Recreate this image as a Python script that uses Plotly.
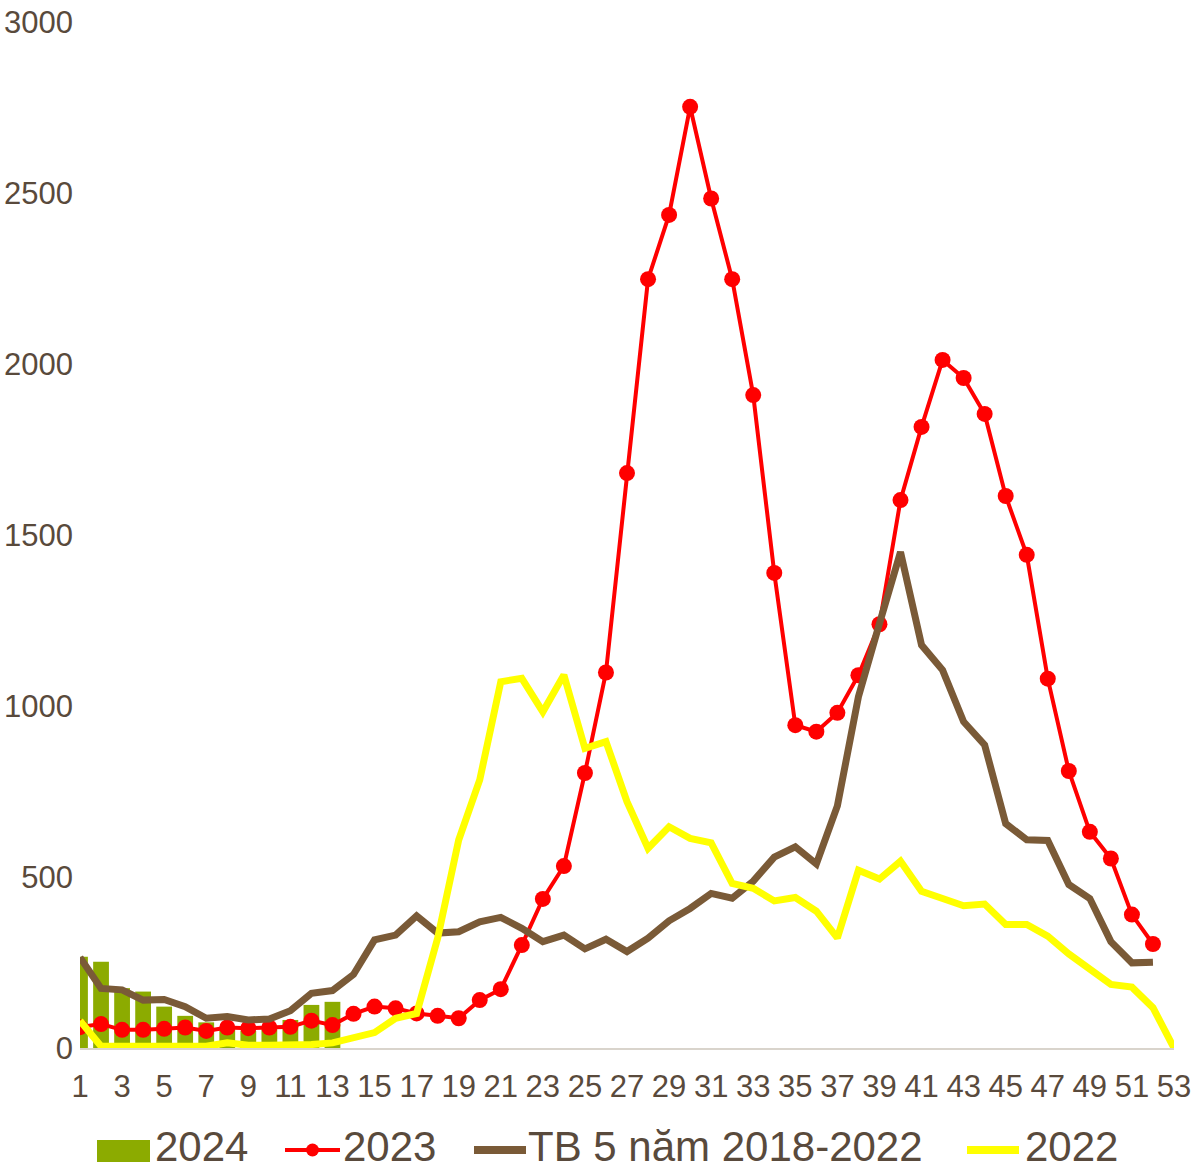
import plotly.graph_objects as go

weeks = list(range(1, 54))
tick_vals = list(range(1, 54, 2))
y_ticks = [0, 500, 1000, 1500, 2000, 2500, 3000]

weeks_2024 = list(range(1, 14))
cases_2024 = [267, 252, 175, 165, 121, 94, 75, 55, 50, 55, 82, 126, 135]

weeks_2023 = list(range(1, 53))
cases_2023 = [61, 70, 53, 53, 56, 60, 50, 60, 58, 60, 62, 80, 67, 100, 121, 116, 101, 94, 87, 140,
              172, 301, 436, 532, 804, 1098, 1681, 2248, 2436, 2752, 2484, 2248, 1909, 1389, 944, 925,
              980, 1090, 1239, 1602, 1816, 2012, 1959, 1854, 1614, 1442, 1080, 810, 632, 554, 390, 304]

weeks_avg = list(range(1, 53))
cases_avg = [265, 174, 170, 140, 142, 121, 87, 92, 82, 85, 109, 160, 168, 215, 316, 330, 386, 336, 340, 369,
             382, 350, 311, 330, 290, 318, 282, 321, 372, 408, 452, 438, 488, 558, 588, 538, 708, 1027,
             1241, 1450, 1178, 1105, 954, 886, 656, 609, 607, 478, 437, 311, 249, 251]

weeks_2022 = list(range(1, 54))
cases_2022 = [80, 5, 5, 5, 5, 5, 5, 15, 8, 8, 8, 10, 15, 28, 45, 87, 101, 321, 608, 784,
              1071, 1081, 983, 1091, 876, 896, 720, 584, 647, 613, 600, 481, 467, 430, 440, 400, 322,
              520, 494, 546, 458, 437, 416, 421, 361, 361, 327, 275, 233, 186, 178, 118, 0]

series_names = ["2024", "2023", "TB 5 năm 2018-2022", "2022"]
series_colors = ["#8cab00", "#ff0000", "#7a5a37", "#ffff00"]

text_color = "#594a3c"
font_family = "Liberation Sans, Arial, sans-serif"

W, H = 1195, 1169
ML, MR, MT, MB = 80, 21, 22, 121
PW, PH = W - ML - MR, H - MT - MB


def px_x(px):
    return (px - ML) / PW


def px_y(py):
    return (H - MB - py) / PH


fig = go.Figure()
fig.add_trace(go.Bar(x=weeks_2024, y=cases_2024, name=series_names[0], marker_color=series_colors[0],
                     width=0.75, marker_line_width=0, showlegend=False))
fig.add_trace(go.Scatter(x=weeks_2023, y=cases_2023, name=series_names[1], mode="lines+markers",
                         line=dict(color=series_colors[1], width=4),
                         marker=dict(color=series_colors[1], size=16), showlegend=False))
fig.add_trace(go.Scatter(x=weeks_avg, y=cases_avg, name=series_names[2], mode="lines",
                         line=dict(color=series_colors[2], width=7), showlegend=False))
fig.add_trace(go.Scatter(x=weeks_2022, y=cases_2022, name=series_names[3], mode="lines",
                         line=dict(color=series_colors[3], width=7), showlegend=False))

# Legend drawn at bottom (symbols + real text)
leg_y = 1150
shapes = []
annotations = []
shapes.append(dict(type="rect", xref="paper", yref="paper",
                   x0=px_x(97), x1=px_x(150), y0=px_y(1162), y1=px_y(1140),
                   fillcolor=series_colors[0], line=dict(width=0)))
shapes.append(dict(type="line", xref="paper", yref="paper",
                   x0=px_x(285), x1=px_x(340), y0=px_y(leg_y), y1=px_y(leg_y),
                   line=dict(color=series_colors[1], width=4)))
shapes.append(dict(type="circle", xref="paper", yref="paper",
                   x0=px_x(306), x1=px_x(319), y0=px_y(leg_y + 6.5), y1=px_y(leg_y - 6.5),
                   fillcolor=series_colors[1], line=dict(width=0)))
shapes.append(dict(type="line", xref="paper", yref="paper",
                   x0=px_x(474), x1=px_x(526), y0=px_y(leg_y), y1=px_y(leg_y),
                   line=dict(color=series_colors[2], width=8)))
shapes.append(dict(type="line", xref="paper", yref="paper",
                   x0=px_x(967), x1=px_x(1019), y0=px_y(leg_y), y1=px_y(leg_y),
                   line=dict(color=series_colors[3], width=8)))

for name, left in zip(series_names, [153, 341, 526, 1023]):
    annotations.append(dict(text=name, xref="paper", yref="paper", x=px_x(left), y=px_y(1146),
                            xanchor="left", yanchor="middle", showarrow=False,
                            font=dict(size=42, color=text_color, family=font_family)))

fig.update_layout(
    width=W, height=H,
    margin=dict(l=ML, r=MR, t=MT, b=MB),
    paper_bgcolor="white", plot_bgcolor="white",
    font=dict(family=font_family, color=text_color, size=31),
    bargap=0.25,
    showlegend=False,
    shapes=shapes,
    annotations=annotations,
    xaxis=dict(range=[1, 53], tickmode="array", tickvals=tick_vals,
               ticktext=[str(v) for v in tick_vals], showgrid=False, zeroline=False,
               showline=True, linecolor="#d9d4cc", linewidth=2, ticks="", automargin=False,
               tickfont=dict(size=31, color=text_color), ticklabelstandoff=10),
    yaxis=dict(range=[0, 3000], tickmode="array", tickvals=y_ticks,
               showgrid=False, zeroline=False, showline=False, ticks="", automargin=False,
               tickfont=dict(size=31, color=text_color), ticklabelstandoff=6),
)

fig.write_html("out.html", config={"displayModeBar": False},
               post_script="document.body.style.margin='0';document.body.style.padding='0';")
